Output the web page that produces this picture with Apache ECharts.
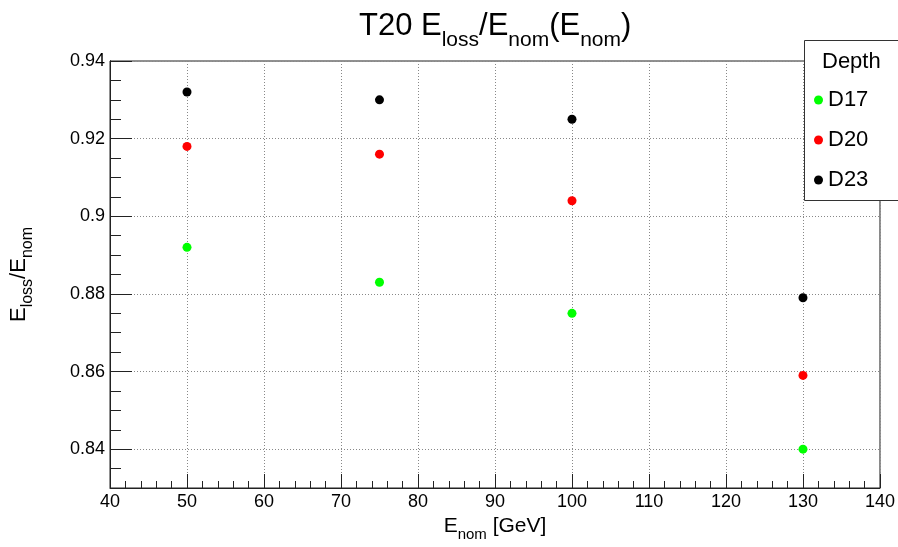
<!DOCTYPE html>
<html>
<head>
<meta charset="utf-8">
<script src="https://cdn.jsdelivr.net/npm/echarts@6/dist/echarts.min.js"></script>
<style>html,body{margin:0;padding:0;background:#fff}#c{width:898px;height:547px}</style>
</head>
<body>
<div id="c"></div>
<script>
const energies = [50, 75, 100, 130];
const d17 = [0.892, 0.883, 0.875, 0.840];
const d20 = [0.918, 0.916, 0.904, 0.859];
const d23 = [0.932, 0.930, 0.925, 0.879];
const seriesNames = ['D17', 'D20', 'D23'];
const seriesColors = ['#00ff00', '#ff0000', '#000000'];
const yMajorTicks = [0.84, 0.86, 0.88, 0.90, 0.92, 0.94];
const yLabels = ['0.84', '0.86', '0.88', '0.9', '0.92', '0.94'];

const FONT = '"Liberation Sans", Arial, sans-serif';
const chart = echarts.init(document.getElementById('c'));
const toPairs = arr => energies.map((e, i) => [e, arr[i]]);
const allData = [d17, d20, d23];

const series = seriesNames.map((n, k) => ({
  name: n, type: 'scatter', yAxisIndex: 0,
  symbol: 'circle', symbolSize: 9,
  itemStyle: { color: seriesColors[k], opacity: 1 },
  data: toPairs(allData[k]), z: 5
}));

chart.setOption({
  animation: false,
  textStyle: { fontFamily: FONT },
  title: {
    text: '{m|T20 E}{s|loss}{m|/E}{s|nom}{m|(E}{s|nom}{m|)}',
    left: 354, top: 6,
    textStyle: {
      fontWeight: 'normal',
      rich: {
        m: { fontSize: 31, fontWeight: 'normal', fontFamily: FONT, color: '#000', verticalAlign: 'bottom', padding: [0, 0, 9, 0] },
        s: { fontSize: 21, fontWeight: 'normal', fontFamily: FONT, color: '#000', verticalAlign: 'bottom' }
      }
    }
  },
  grid: { left: 108, right: 18, top: 61, bottom: 58, show: true, borderColor: '#222', borderWidth: 1, backgroundColor: 'transparent' },
  xAxis: {
    type: 'value', min: 40, max: 140, interval: 10,
    name: '{m|E}{s|nom}{m| [GeV]}', nameLocation: 'middle', nameGap: 28,
    nameTextStyle: { rich: {
      m: { fontSize: 21, fontFamily: FONT, color: '#000', verticalAlign: 'bottom', padding: [0, 0, 5, 0] },
      s: { fontSize: 15, fontFamily: FONT, color: '#000', verticalAlign: 'bottom' }
    } },
    axisLine: { show: true, lineStyle: { color: '#222', width: 1 } },
    axisTick: { show: true, inside: true, length: 14, lineStyle: { color: '#222' } },
    minorTick: { show: true, splitNumber: 5, length: 7, lineStyle: { color: '#222' } },
    axisLabel: { fontSize: 18, color: '#000', margin: 5, fontFamily: FONT },
    splitLine: { show: true, lineStyle: { color: '#888', type: [1, 2], width: 1 } }
  },
  yAxis: [{
    type: 'value', min: 0.83, max: 0.94, interval: 0.005, position: 'left',
    axisLine: { show: true, lineStyle: { color: '#222' } },
    axisTick: { show: true, inside: true, length: 11, lineStyle: { color: '#222' } },
    axisLabel: { show: false },
    splitLine: { show: false }
  }, {
    type: 'value', min: 0.83, max: 0.94, position: 'left',
    name: '{m|E}{s|loss}{m|/E}{s|nom}', nameLocation: 'middle', nameGap: 74, nameRotate: 90,
    nameTextStyle: { rich: {
      m: { fontSize: 22, fontFamily: FONT, color: '#000', verticalAlign: 'bottom', padding: [0, 0, 6, 0] },
      s: { fontSize: 16, fontFamily: FONT, color: '#000', verticalAlign: 'bottom' }
    } },
    axisLine: { show: true, lineStyle: { color: '#222' } },
    axisTick: { show: true, inside: true, length: 22, customValues: yMajorTicks, lineStyle: { color: '#222' } },
    axisLabel: { show: true, customValues: yMajorTicks, fontSize: 18, color: '#000', margin: 5, fontFamily: FONT,
      formatter: v => { const i = yMajorTicks.findIndex(t => Math.abs(t - v) < 1e-6); return i >= 0 ? yLabels[i] : ''; } },
    splitLine: { show: true, customValues: yMajorTicks, lineStyle: { color: '#888', type: [1, 2], width: 1 } }
  }],
  legend: {
    orient: 'vertical', left: 814, top: 89, padding: 0,
    itemWidth: 9, itemHeight: 9, itemGap: 18, icon: 'circle',
    data: seriesNames,
    textStyle: { fontSize: 22, lineHeight: 22, color: '#000', fontFamily: FONT },
    z: 20
  },
  graphic: [
    { type: 'rect', shape: { x: 804.5, y: 40.5, width: 120, height: 160 }, style: { fill: '#fff', stroke: '#333', lineWidth: 1 }, z: 15 },
    { type: 'text', x: 822, y: 62, style: { text: 'Depth', fontSize: 22, fontFamily: FONT, fill: '#000', verticalAlign: 'middle' }, z: 16 }
  ],
  series: series
});
</script>
</body>
</html>
